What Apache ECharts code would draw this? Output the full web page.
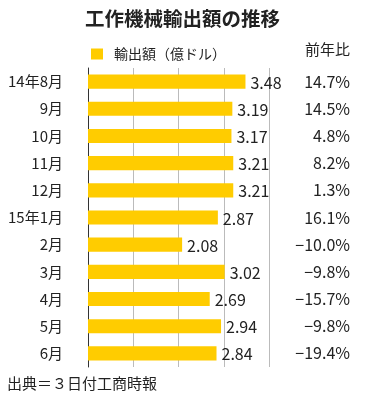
<!DOCTYPE html>
<html><head><meta charset="utf-8">
<script src="https://cdn.jsdelivr.net/npm/echarts@6/dist/echarts.min.js"></script>
<style>html,body{margin:0;padding:0;background:#fff}#c{width:365px;height:405px}</style>
</head><body><div id="c"></div>
<script>
const categories = ['14年8月','9月','10月','11月','12月','15年1月','2月','3月','4月','5月','6月'];
const exportValues = [3.48, 3.19, 3.17, 3.21, 3.21, 2.87, 2.08, 3.02, 2.69, 2.94, 2.84];
const yoyLabels = ['14.7%','14.5%','4.8%','8.2%','1.3%','16.1%','−10.0%','−9.8%','−15.7%','−9.8%','−19.4%'];
const xTicks = [0, 1, 2, 3, 4];

const FONT = '"Noto Sans CJK JP", "Noto Sans", sans-serif';
const chart = echarts.init(document.getElementById('c'), null, {renderer: 'canvas'});
chart.setOption({
  animation: false,
  backgroundColor: '#fff',
  textStyle: {fontFamily: FONT},
  title: {
    text: '工作機械輸出額の推移', left: 'center', top: 4,
    textStyle: {fontSize: 19.5, fontWeight: 'bold', color: '#222', fontFamily: FONT}
  },
  legend: {
    data: ['輸出額（億ドル）'], left: 86, top: 42,
    icon: 'rect', itemWidth: 12, itemHeight: 11, itemGap: 8,
    textStyle: {fontSize: 14, color: '#222', fontFamily: FONT, padding: [0,0,0,6]}
  },
  graphic: [
    {type: 'text', right: 15, top: 42, style: {text: '前年比', fill: '#222', font: '15px ' + FONT}},
    {type: 'text', left: 7, top: 376, style: {text: '出典＝３日付工商時報', fill: '#222', font: '15px ' + FONT}}
  ],
  grid: {left: 88, right: 96, top: 68, height: 299, containLabel: false},
  xAxis: {
    type: 'value', min: xTicks[0], max: xTicks[xTicks.length - 1], interval: 1,
    axisLabel: {show: false}, axisLine: {show: false}, axisTick: {show: false},
    splitLine: {show: true, lineStyle: {color: '#bbb', width: 1}}
  },
  yAxis: [{
    type: 'category', data: categories, inverse: true,
    axisLine: {show: true, lineStyle: {color: '#333', width: 1}},
    axisTick: {show: false},
    axisLabel: {margin: 25, fontSize: 15, color: '#222', fontFamily: FONT}
  }, {
    type: 'category', data: yoyLabels, inverse: true, position: 'right',
    axisLine: {show: false}, axisTick: {show: false},
    axisLabel: {margin: 81, align: 'right', fontSize: 16, color: '#222', fontFamily: FONT}
  }],
  series: [{
    name: '輸出額（億ドル）', type: 'bar', data: exportValues,
    itemStyle: {color: '#FFCC00'},
    barCategoryGap: '48%',
    label: {show: true, position: 'right', distance: 5, fontSize: 16, color: '#222', fontFamily: FONT,
      formatter: p => p.value.toFixed(2), offset: [0, 1]}
  }]
});
</script></body></html>
